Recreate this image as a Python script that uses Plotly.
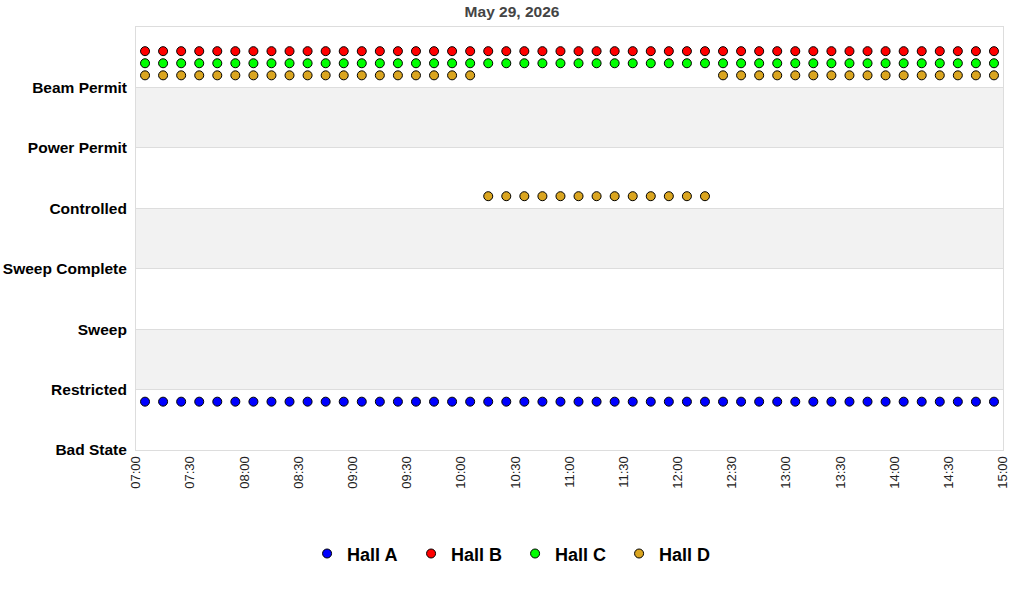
import plotly.graph_objects as go

# Hall state samples, 10 minute readings on May 29, 2026
times = [
    '2026-05-29 07:05', '2026-05-29 07:15', '2026-05-29 07:25', '2026-05-29 07:35',
    '2026-05-29 07:45', '2026-05-29 07:55', '2026-05-29 08:05', '2026-05-29 08:15',
    '2026-05-29 08:25', '2026-05-29 08:35', '2026-05-29 08:45', '2026-05-29 08:55',
    '2026-05-29 09:05', '2026-05-29 09:15', '2026-05-29 09:25', '2026-05-29 09:35',
    '2026-05-29 09:45', '2026-05-29 09:55', '2026-05-29 10:05', '2026-05-29 10:15',
    '2026-05-29 10:25', '2026-05-29 10:35', '2026-05-29 10:45', '2026-05-29 10:55',
    '2026-05-29 11:05', '2026-05-29 11:15', '2026-05-29 11:25', '2026-05-29 11:35',
    '2026-05-29 11:45', '2026-05-29 11:55', '2026-05-29 12:05', '2026-05-29 12:15',
    '2026-05-29 12:25', '2026-05-29 12:35', '2026-05-29 12:45', '2026-05-29 12:55',
    '2026-05-29 13:05', '2026-05-29 13:15', '2026-05-29 13:25', '2026-05-29 13:35',
    '2026-05-29 13:45', '2026-05-29 13:55', '2026-05-29 14:05', '2026-05-29 14:15',
    '2026-05-29 14:25', '2026-05-29 14:35', '2026-05-29 14:45', '2026-05-29 14:55',
]

states = ['Bad State', 'Restricted', 'Sweep', 'Sweep Complete',
          'Controlled', 'Power Permit', 'Beam Permit']

hall_a = ['Restricted'] * 48
hall_b = ['Beam Permit'] * 48
hall_c = ['Beam Permit'] * 48
hall_d = ['Beam Permit'] * 19 + ['Controlled'] * 13 + ['Beam Permit'] * 16

halls = ['Hall A', 'Hall B', 'Hall C', 'Hall D']

# Styling: colour and small vertical shift so the halls don't overlap
colors = {'Hall A': '#0000ff', 'Hall B': '#ff0000',
          'Hall C': '#00ff00', 'Hall D': '#daa520'}
offsets = {'Hall A': -0.2, 'Hall B': 0.6, 'Hall C': 0.4, 'Hall D': 0.2}

fig = go.Figure()
for name, values in zip(halls, [hall_a, hall_b, hall_c, hall_d]):
    fig.add_trace(go.Scatter(
        x=times,
        y=[states.index(v) + offsets[name] for v in values],
        name=name,
        mode='markers',
        marker={'color': colors[name], 'size': 9, 'symbol': 'circle',
                'line': {'color': 'black', 'width': 1}},
        hovertemplate='%{x}<extra>' + name + '</extra>'))

# Alternating grey bands behind the state rows
for low in [1, 3, 5]:
    fig.add_shape(type='rect', xref='paper', yref='y', x0=0, x1=1,
                  y0=low, y1=low + 1, fillcolor='#f2f2f2',
                  line={'width': 0}, layer='below')

fig.update_layout(
    width=1024, height=600,
    margin={'l': 136, 'r': 21, 't': 27, 'b': 150, 'autoexpand': False},
    paper_bgcolor='white', plot_bgcolor='white',
    font={'family': 'Liberation Sans, Arial, sans-serif', 'color': 'black'},
    title={'text': '<b>May 29, 2026</b>', 'x': 0.5, 'xref': 'container',
           'xanchor': 'center', 'y': 0.98, 'yanchor': 'middle',
           'font': {'size': 15.5, 'color': '#444444'}},
    showlegend=True,
    legend={'orientation': 'h', 'xref': 'container', 'yref': 'container',
            'x': 0.503, 'xanchor': 'center', 'y': 0.077, 'yanchor': 'middle',
            'entrywidth': 59, 'entrywidthmode': 'pixels',
            'font': {'size': 18, 'color': 'black', 'weight': 'bold'}},
)
fig.update_xaxes(
    type='date',
    range=['2026-05-29 07:00', '2026-05-29 15:00'],
    dtick=30 * 60 * 1000, tickformat='%H:%M', tickangle=-90,
    tickfont={'size': 13, 'color': '#222222'},
    showgrid=False, zeroline=False, ticks='', automargin=False,
    showline=True, linecolor='#dddddd', mirror=True)
fig.update_yaxes(
    range=[0, 7],
    tickvals=list(range(len(states))), ticktext=states,
    tickfont={'size': 15.5, 'color': 'black', 'weight': 'bold'},
    showgrid=True, gridcolor='#dddddd', zeroline=False, ticks='',
    showline=True, linecolor='#dddddd', mirror=True, automargin=False,
    ticklabelstandoff=5)

# The page body has a default margin; drop it so the figure sits at 0,0
fig.write_html('out.html', config={'displayModeBar': False},
               post_script="document.body.style.margin = '0';")
